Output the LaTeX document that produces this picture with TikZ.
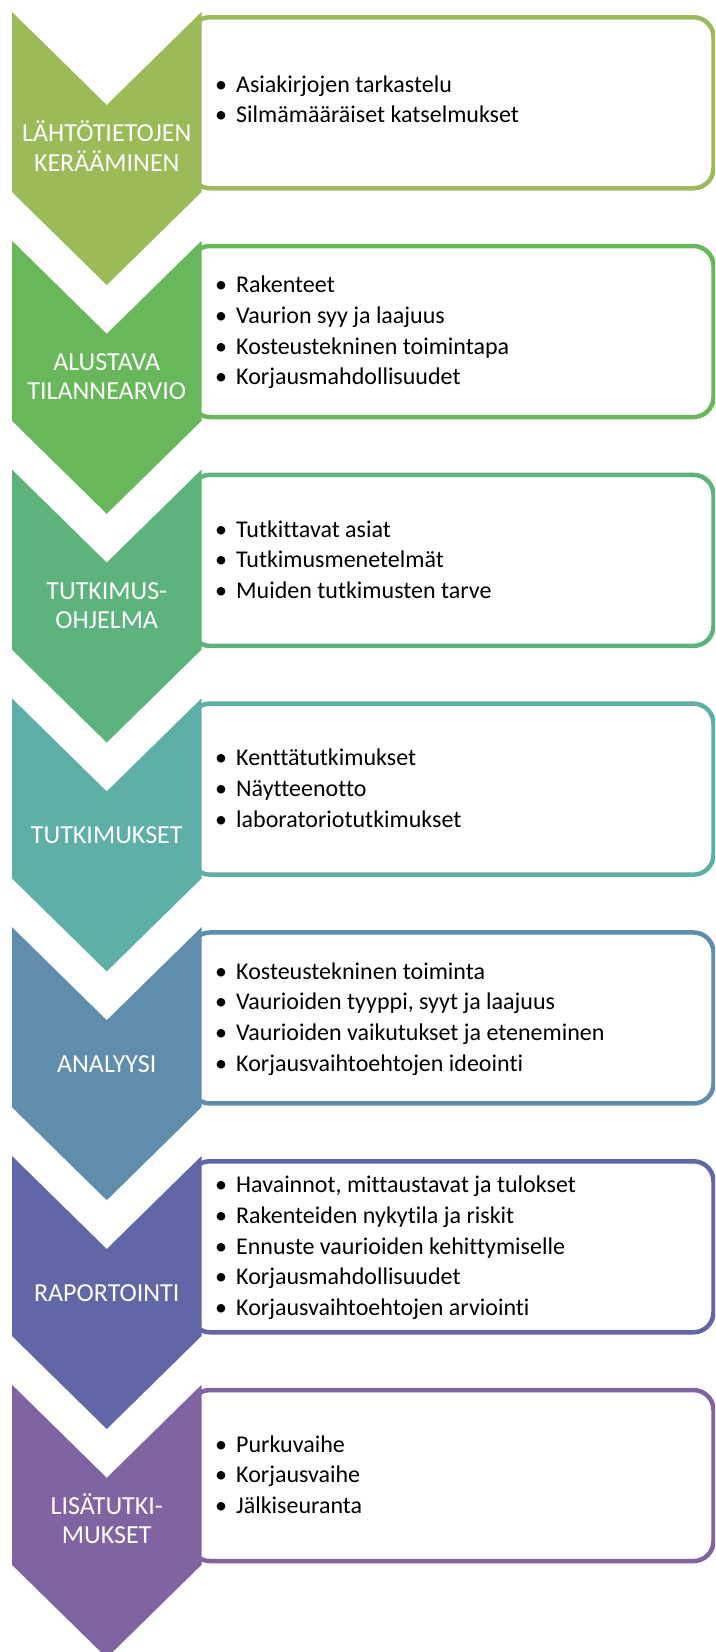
\documentclass[tikz,border=0pt]{standalone}
\usepackage{fontspec}
\setmainfont{Carlito}[Ligatures={NoCommon,NoContextual}]
\definecolor{c1}{HTML}{9BBB59}
\definecolor{c2}{HTML}{68B75A}
\definecolor{c3}{HTML}{5CB37C}
\definecolor{c4}{HTML}{5EAFA6}
\definecolor{c5}{HTML}{5F8DAB}
\definecolor{c6}{HTML}{6167A6}
\definecolor{c7}{HTML}{8064A2}
\tikzset{
  panel/.style={draw=#1, line width=4.5pt, fill=white, rounded corners=20pt},
  chev/.style={fill=#1, draw=none},
  lbl/.style={text=white, font=\fontsize{26}{29.5}\selectfont, inner sep=0pt, anchor=base},
  itm/.style={text=black, font=\fontsize{24}{30.6}\selectfont, inner sep=0pt, anchor=base west},
}
\newcommand\bul{\makebox[21pt][l]{•}}
\newcommand\chevpath{(12,0) -- (106.75,93) -- (201.5,0) -- (201.5,180) -- (106.75,273) -- (12,180) -- cycle}
\begin{document}
\begin{tikzpicture}[x=1pt,y=-1pt]
\useasboundingbox (0,0) rectangle (715,1652);
\clip (0,0) rectangle (715,1652);
% block 1
\begin{scope}[yshift=-12pt]
  \draw[panel=c1] (190,5.25) rectangle (713.5,176.25);
  \fill[chev=c1] \chevpath;
  \node[lbl] (l1a) at (106.75,129.5) {LÄHTÖTIETOJEN};
  \node[lbl] (l1b) at (106.75,159) {KERÄÄMINEN};
  \node[itm] (i1a) at (215,80.2) {\bul Asiakirjojen tarkastelu};
  \node[itm] (i1b) at (215,110.8) {\bul Silmämääräiset katselmukset};
\end{scope}
% block 2
\begin{scope}[yshift=-240.8pt]
  \draw[panel=c2] (190,5.25) rectangle (713.5,176.25);
  \fill[chev=c2] \chevpath;
  \node[lbl] (l2a) at (106.75,129.5) {ALUSTAVA};
  \node[lbl] (l2b) at (106.75,159) {TILANNEARVIO};
  \node[itm] (i2a) at (215,52.1) {\bul Rakenteet};
  \node[itm] (i2b) at (215,82.7) {\bul Vaurion syy ja laajuus};
  \node[itm] (i2c) at (215,113.3) {\bul Kosteustekninen toimintapa};
  \node[itm] (i2d) at (215,143.9) {\bul Korjausmahdollisuudet};
\end{scope}
% block 3
\begin{scope}[yshift=-469.6pt]
  \draw[panel=c3] (190,5.25) rectangle (713.5,176.25);
  \fill[chev=c3] \chevpath;
  \node[lbl] (l3a) at (106.75,129.5) {TUTKIMUS-};
  \node[lbl] (l3b) at (106.75,159) {OHJELMA};
  \node[itm] (i3a) at (215,67.4) {\bul Tutkittavat asiat};
  \node[itm] (i3b) at (215,98) {\bul Tutkimusmenetelmät};
  \node[itm] (i3c) at (215,128.6) {\bul Muiden tutkimusten tarve};
\end{scope}
% block 4
\begin{scope}[yshift=-698.4pt]
  \draw[panel=c4] (190,5.25) rectangle (713.5,176.25);
  \fill[chev=c4] \chevpath;
  \node[lbl] (l4a) at (106.75,145.5) {TUTKIMUKSET};
  \node[itm] (i4a) at (215,67.4) {\bul Kenttätutkimukset};
  \node[itm] (i4b) at (215,98) {\bul Näytteenotto};
  \node[itm] (i4c) at (215,128.6) {\bul laboratoriotutkimukset};
\end{scope}
% block 5
\begin{scope}[yshift=-927.2pt]
  \draw[panel=c5] (190,5.25) rectangle (713.5,176.25);
  \fill[chev=c5] \chevpath;
  \node[lbl] (l5a) at (106.75,145.5) {ANALYYSI};
  \node[itm] (i5a) at (215,52.1) {\bul Kosteustekninen toiminta};
  \node[itm] (i5b) at (215,82.7) {\bul Vaurioiden tyyppi, syyt ja laajuus};
  \node[itm] (i5c) at (215,113.3) {\bul Vaurioiden vaikutukset ja eteneminen};
  \node[itm] (i5d) at (215,143.9) {\bul Korjausvaihtoehtojen ideointi};
\end{scope}
% block 6
\begin{scope}[yshift=-1156pt]
  \draw[panel=c6] (190,5.25) rectangle (713.5,176.25);
  \fill[chev=c6] \chevpath;
  \node[lbl] (l6a) at (106.75,145.5) {RAPORTOINTI};
  \node[itm] (i6a) at (215,36.8) {\bul Havainnot, mittaustavat ja tulokset};
  \node[itm] (i6b) at (215,67.4) {\bul Rakenteiden nykytila ja riskit};
  \node[itm] (i6c) at (215,98) {\bul Ennuste vaurioiden kehittymiselle};
  \node[itm] (i6d) at (215,128.6) {\bul Korjausmahdollisuudet};
  \node[itm] (i6e) at (215,159.2) {\bul Korjausvaihtoehtojen arviointi};
\end{scope}
% block 7
\begin{scope}[yshift=-1384.8pt]
  \draw[panel=c7] (190,5.25) rectangle (713.5,176.25);
  \fill[chev=c7] \chevpath;
  \node[lbl] (l7a) at (106.75,129.5) {LISÄTUTKI-};
  \node[lbl] (l7b) at (106.75,159) {MUKSET};
  \node[itm] (i7a) at (215,67.4) {\bul Purkuvaihe};
  \node[itm] (i7b) at (215,98) {\bul Korjausvaihe};
  \node[itm] (i7c) at (215,128.6) {\bul Jälkiseuranta};
\end{scope}
\end{tikzpicture}
\end{document}
